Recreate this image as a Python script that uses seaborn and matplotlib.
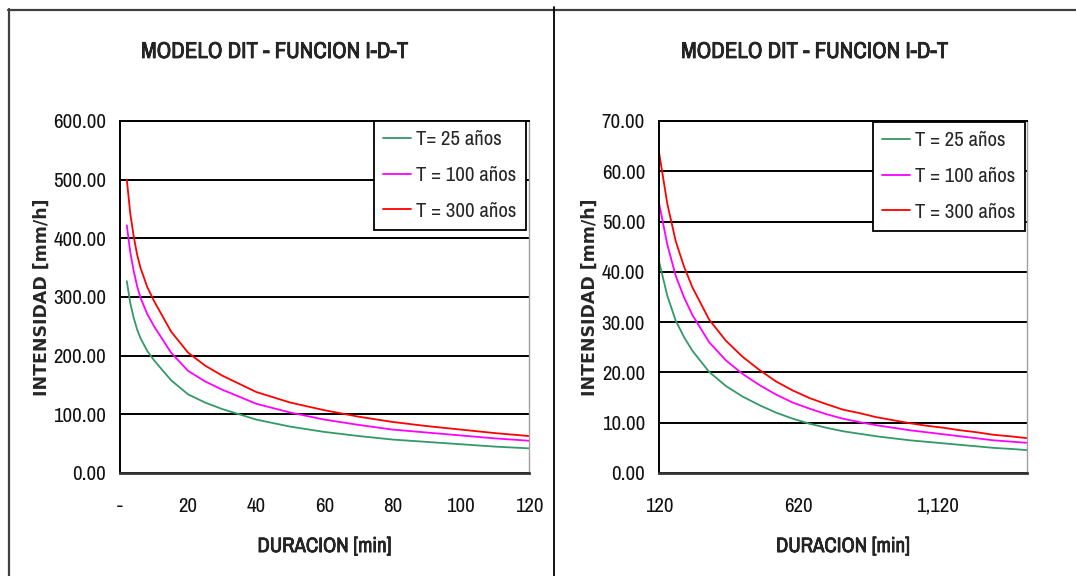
import matplotlib
matplotlib.use("Agg")
import matplotlib.pyplot as plt
import matplotlib.patheffects as pe
from matplotlib.lines import Line2D
from matplotlib.ticker import FuncFormatter
import pandas as pd
import seaborn as sns

# ── data ─────────────────────────────────────────────────────────────────────

COLORS = ["#339966", "#FF00FF", "#FF0000"]
LABELS_SHORT = ["T= 25 años", "T = 100 años", "T = 300 años"]
LABELS_LONG = ["T = 25 años", "T = 100 años", "T = 300 años"]

# durations up to 120 min
DUR_SHORT = [2, 3, 4, 5, 6, 8, 10, 15, 20, 25, 30, 35, 40, 50, 60, 70, 80, 90, 100, 110, 120]
SHORT_T25 = [327, 290, 265, 245, 230, 208, 192, 158, 134, 120, 109, 100, 91, 79, 70, 63, 57, 53, 49, 45, 42]
SHORT_T100 = [422, 377, 345, 319, 299, 271, 250, 205, 174, 156, 142, 130, 118, 103, 91, 82, 74, 69, 64, 59, 55]
SHORT_T300 = [500, 443, 404, 373, 350, 317, 293, 241, 205, 183, 166, 152, 138, 120, 107, 96, 87, 80, 74, 68, 63]

# durations 120 - 1440 min
DUR_LONG = [120, 150, 180, 210, 240, 300, 360, 420, 480, 540, 600, 660, 720, 780, 840, 900,
            960, 1020, 1080, 1140, 1200, 1260, 1320, 1380, 1440]
LONG_T25 = [42.1, 35.2, 30.3, 27.0, 24.3, 20.1, 17.3, 15.2, 13.5, 12.0, 10.8, 9.8, 9.0, 8.3, 7.8, 7.3,
            6.9, 6.5, 6.2, 5.9, 5.6, 5.3, 5.0, 4.8, 4.55]
LONG_T100 = [53.7, 45.4, 39.2, 34.9, 31.4, 26.0, 22.4, 19.7, 17.5, 15.6, 14.0, 12.8, 11.7, 10.8, 10.1, 9.5,
             9.0, 8.5, 8.1, 7.7, 7.3, 6.9, 6.5, 6.25, 6.0]
LONG_T300 = [63.8, 53.5, 46.1, 41.0, 36.9, 30.5, 26.3, 23.1, 20.5, 18.2, 16.4, 14.9, 13.7, 12.6, 11.9, 11.1,
             10.5, 9.9, 9.4, 9.0, 8.5, 8.1, 7.6, 7.3, 6.93]

TITLE = "MODELO DIT - FUNCION I-D-T"
YLABEL = "INTENSIDAD [mm/h]"
XLABEL = "DURACION [min]"

# the original uses Arial Narrow; Archivo Narrow is the closest face installed
NARROW = ["Archivo Narrow", "Liberation Sans", "DejaVu Sans"]
STRETCH = "condensed"
# no bold narrow face here, so thicken the strokes a little
FAKE_BOLD = [pe.withStroke(linewidth=0.5, foreground="black")]


def long_frame(dur, series, labels):
    rows = []
    for vals, lab in zip(series, labels):
        rows.append(pd.DataFrame({"dur": dur, "int": vals, "serie": lab}))
    return pd.concat(rows, ignore_index=True)


def draw_panel(fig, rect, df, labels, xlim, xticks, xticklabels, ylim, yticks,
               leg_anchor, ylab_x):
    ax = fig.add_axes(rect)
    sns.lineplot(data=df, x="dur", y="int", hue="serie", hue_order=labels,
                 palette=dict(zip(labels, COLORS)), lw=1.3, ax=ax, legend=True)
    ax.set_xlim(*xlim)
    ax.set_ylim(*ylim)
    ax.set_xticks(xticks)
    ax.set_xticklabels(xticklabels)
    ax.set_yticks(yticks)
    ax.yaxis.set_major_formatter(FuncFormatter(lambda v, p: f"{v:.2f}"))
    ax.yaxis.grid(True, color="black", lw=1.4, zorder=0)
    ax.xaxis.grid(False)
    ax.set_axisbelow(True)
    for side in ("left", "top"):
        ax.spines[side].set_color("black")
        ax.spines[side].set_linewidth(1.4)
    ax.spines["bottom"].set_color("#333333")
    ax.spines["bottom"].set_linewidth(2.0)
    ax.spines["right"].set_color("#a0a0a0")
    ax.spines["right"].set_linewidth(1.0)
    ax.tick_params(axis="y", direction="out", length=6, width=1.3, pad=4, color="black")
    ax.tick_params(axis="x", direction="out", length=6, width=1.3, pad=11, color="black")
    for t in ax.get_xticklabels() + ax.get_yticklabels():
        t.set_family(NARROW)
        t.set_fontsize(15)
        t.set_fontstretch(STRETCH)
        t.set_color("#111111")
    ax.set_xlabel(XLABEL, family=NARROW, fontsize=15, fontweight="bold", fontstretch=STRETCH,
                  path_effects=FAKE_BOLD)
    ax.set_ylabel(YLABEL, family=["DejaVu Sans"], fontsize=12.5, fontweight="bold")
    ax.xaxis.set_label_coords(0.5, -0.182)
    ax.yaxis.set_label_coords(ylab_x, 0.5)

    handles, labs = ax.get_legend_handles_labels()
    leg = ax.legend(handles, labs, loc="upper right", bbox_to_anchor=leg_anchor,
                    bbox_transform=fig.transFigure, frameon=True, fancybox=False,
                    edgecolor="black", framealpha=1,
                    prop={"family": NARROW, "size": 15, "stretch": STRETCH},
                    handlelength=1.35, handletextpad=0.25, labelspacing=0.8,
                    borderpad=0.45, borderaxespad=0)
    leg.get_frame().set_linewidth(1.3)
    return ax


sns.set_style("white")
plt.rcParams["font.family"] = NARROW

W, H = 1076, 576
fig = plt.figure(figsize=(W / 100, H / 100), dpi=100)
fig.patch.set_facecolor("white")

short_df = long_frame(DUR_SHORT, [SHORT_T25, SHORT_T100, SHORT_T300], LABELS_SHORT)
long_df = long_frame(DUR_LONG, [LONG_T25, LONG_T100, LONG_T300], LABELS_LONG)

draw_panel(fig, [120 / W, 103 / H, 409 / W, 352 / H], short_df, LABELS_SHORT,
           (0, 120), [0, 20, 40, 60, 80, 100, 120],
           ["-", "20", "40", "60", "80", "100", "120"],
           (0, 600), [0, 100, 200, 300, 400, 500, 600], (526 / W, 1 - 121 / H), -0.17)

draw_panel(fig, [659 / W, 103 / H, 368 / W, 352 / H], long_df, LABELS_LONG,
           (120, 1440), [120, 620, 1120], ["120", "620", "1,120"],
           (0, 70), [0, 10, 20, 30, 40, 50, 60, 70], (1025 / W, 1 - 122 / H), -0.165)

for cx in (275, 815):
    fig.text(cx / W, 1 - 52 / H, TITLE, ha="center", va="center",
             family=NARROW, fontsize=16.5, fontweight="bold", fontstretch=STRETCH,
             path_effects=FAKE_BOLD)

# frame lines of the two pasted chart areas
border = dict(color="#404040", lw=1.6, transform=fig.transFigure)
fig.add_artist(Line2D([8 / W, 1], [1 - 9.5 / H, 1 - 9.5 / H], **border))
fig.add_artist(Line2D([8.5 / W, 8.5 / W], [0, 1 - 9 / H], **border))
fig.add_artist(Line2D([553.7 / W, 553.7 / W], [0, 1 - 7 / H], color="black", lw=1.3,
                      transform=fig.transFigure))

fig.savefig("out.png", dpi=100)
